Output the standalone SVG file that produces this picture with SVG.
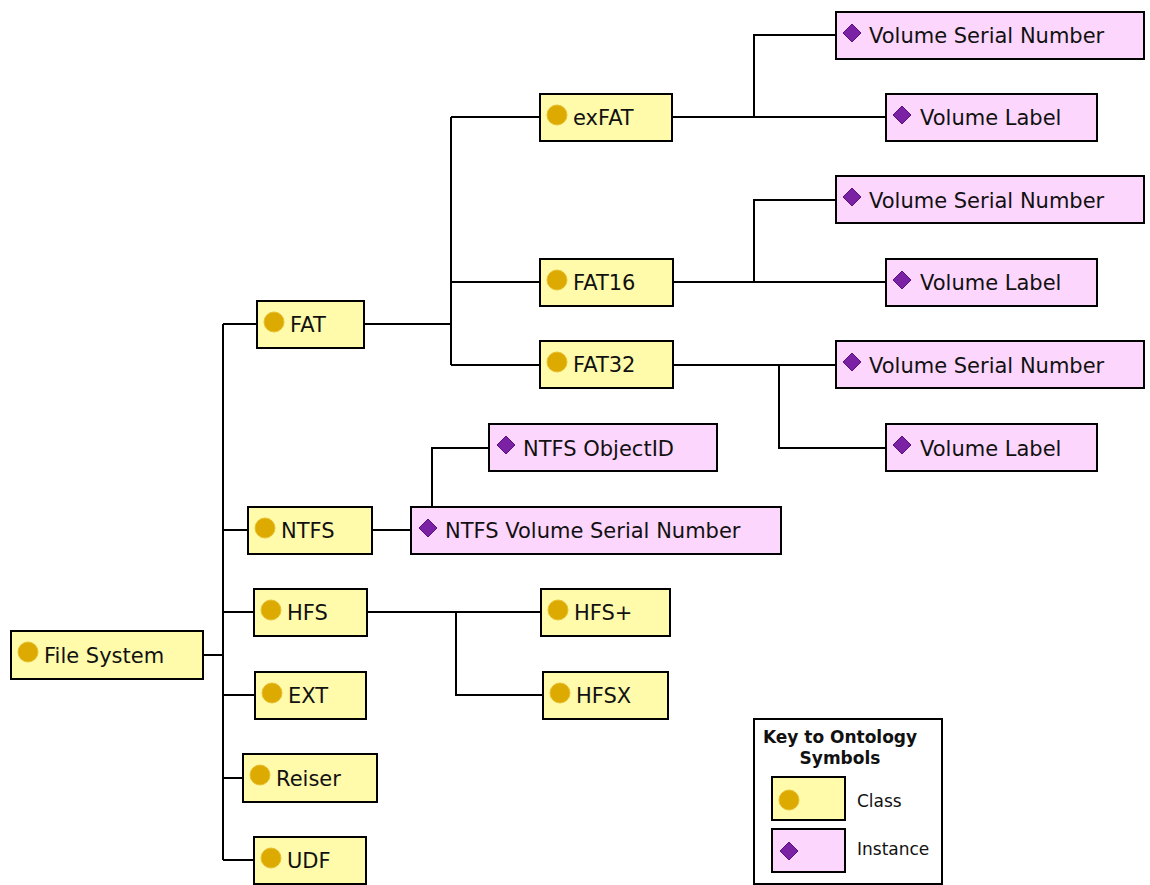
<svg xmlns="http://www.w3.org/2000/svg" width="1150" height="885" viewBox="0 0 1150 885">
<style>
.c rect{fill:#fffbaa;stroke:#000;stroke-width:2}
.i rect{fill:#fdd6fd;stroke:#000;stroke-width:2}
.c circle{fill:#dcaa00;stroke:#e8c030;stroke-width:1}
.i use{fill:#7b22a4;stroke:#5a1080;stroke-width:1}
text{font-family:"DejaVu Sans",Verdana,sans-serif;font-size:21px;fill:#111}
.k{font-size:17px;font-weight:bold;text-anchor:middle}
.s{font-size:17px}
#connectors path{fill:none;stroke:#000;stroke-width:2}
</style>
<defs>
<path id="dia" d="M0,-9 L9,0 L0,9 L-9,0 Z"/>
</defs>
<rect width="1150" height="885" fill="#fff"/>
<g id="connectors">
<path d="M203,655 H223 M223,324 V860 M223,324 H257 M223,530 H248 M223,612 H254 M223,695 H255 M223,778 H243 M223,860 H254"/>
<path d="M364,324 H451 M451,117 V365 M451,117 H540 M451,282 H540 M451,365 H540"/>
<path d="M672,117 H886 M754,117 V35 H836"/>
<path d="M673,282 H886 M754,282 V200 H836"/>
<path d="M673,365 H836 M779,365 V448 H886"/>
<path d="M372,530 H411 M432,507 V448 H489"/>
<path d="M367,612 H541 M456,612 V695 H543"/>
</g>
<g id="file-system" class="c"><rect x="11" y="631" width="192" height="48"/><circle cx="28" cy="652" r="10"/><text x="44" y="663">File System</text></g>
<g id="fat" class="c"><rect x="257" y="301" width="107" height="47"/><circle cx="274" cy="322" r="10"/><text x="290" y="332">FAT</text></g>
<g id="ntfs" class="c"><rect x="248" y="507" width="124" height="47"/><circle cx="265" cy="528" r="10"/><text x="281" y="538">NTFS</text></g>
<g id="hfs" class="c"><rect x="254" y="589" width="113" height="47"/><circle cx="271" cy="610" r="10"/><text x="287" y="620">HFS</text></g>
<g id="ext" class="c"><rect x="255" y="672" width="111" height="47"/><circle cx="272" cy="693" r="10"/><text x="288" y="703">EXT</text></g>
<g id="reiser" class="c"><rect x="243" y="754" width="134" height="48"/><circle cx="260" cy="775" r="10"/><text x="276" y="786">Reiser</text></g>
<g id="udf" class="c"><rect x="254" y="837" width="112" height="47"/><circle cx="271" cy="858" r="10"/><text x="287" y="868">UDF</text></g>
<g id="exfat" class="c"><rect x="540" y="94" width="132" height="47"/><circle cx="557" cy="115" r="10"/><text x="573" y="125">exFAT</text></g>
<g id="fat16" class="c"><rect x="540" y="259" width="133" height="47"/><circle cx="557" cy="280" r="10"/><text x="573" y="290">FAT16</text></g>
<g id="fat32" class="c"><rect x="540" y="341" width="133" height="47"/><circle cx="557" cy="362" r="10"/><text x="573" y="372">FAT32</text></g>
<g id="hfs-plus" class="c"><rect x="541" y="589" width="129" height="47"/><circle cx="558" cy="610" r="10"/><text x="574" y="620">HFS+</text></g>
<g id="hfsx" class="c"><rect x="543" y="672" width="125" height="47"/><circle cx="560" cy="693" r="10"/><text x="576" y="703">HFSX</text></g>
<g id="exfat-vsn" class="i"><rect x="836" y="12" width="308" height="47"/><use href="#dia" x="852" y="33"/><text x="869" y="43">Volume Serial Number</text></g>
<g id="exfat-vl" class="i"><rect x="886" y="94" width="211" height="47"/><use href="#dia" x="902" y="115"/><text x="920" y="125">Volume Label</text></g>
<g id="fat16-vsn" class="i"><rect x="836" y="176" width="308" height="47"/><use href="#dia" x="852" y="197"/><text x="869" y="208">Volume Serial Number</text></g>
<g id="fat16-vl" class="i"><rect x="886" y="259" width="211" height="47"/><use href="#dia" x="902" y="280"/><text x="920" y="290">Volume Label</text></g>
<g id="fat32-vsn" class="i"><rect x="836" y="341" width="308" height="47"/><use href="#dia" x="852" y="362"/><text x="869" y="373">Volume Serial Number</text></g>
<g id="fat32-vl" class="i"><rect x="886" y="424" width="211" height="47"/><use href="#dia" x="902" y="445"/><text x="920" y="456">Volume Label</text></g>
<g id="ntfs-objectid" class="i"><rect x="489" y="424" width="228" height="47"/><use href="#dia" x="506" y="445"/><text x="523" y="456">NTFS ObjectID</text></g>
<g id="ntfs-vsn" class="i"><rect x="411" y="507" width="370" height="47"/><use href="#dia" x="428" y="528"/><text x="445" y="538">NTFS Volume Serial Number</text></g>
<g id="legend">
<rect x="754" y="719" width="188" height="165" fill="#fff" stroke="#000" stroke-width="2"/>
<text class="k" x="840" y="743">Key to Ontology</text>
<text class="k" x="840" y="764">Symbols</text>
<g class="c"><rect x="772" y="777" width="73" height="43"/><circle cx="789" cy="800" r="10"/></g>
<text class="s" x="857" y="807">Class</text>
<g class="i"><rect x="772" y="829" width="73" height="43"/><use href="#dia" x="789" y="851"/></g>
<text class="s" x="857" y="855">Instance</text>
</g>
</svg>
